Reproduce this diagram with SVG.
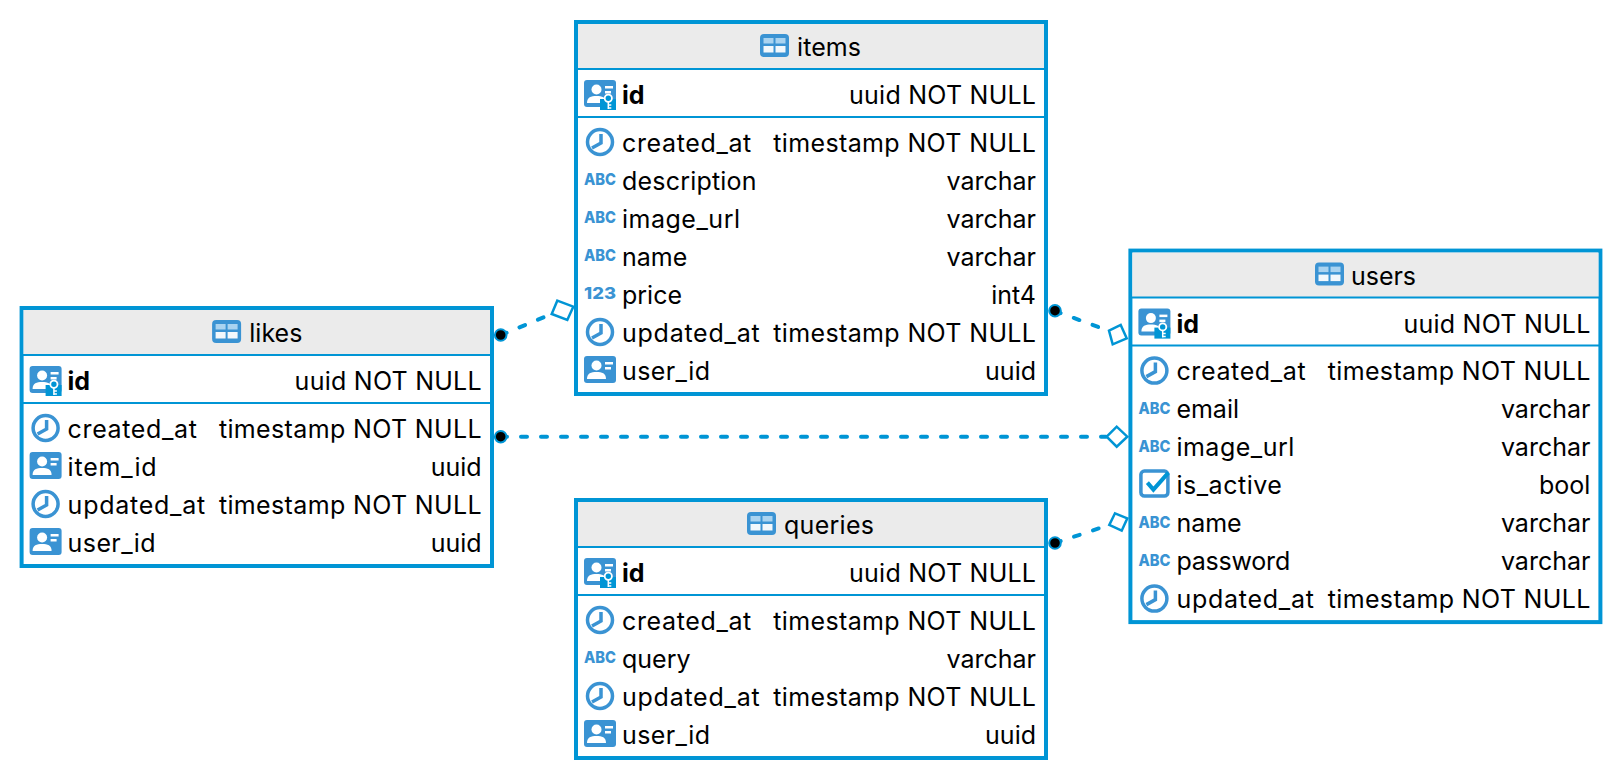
<svg xmlns="http://www.w3.org/2000/svg" width="1622" height="780" viewBox="0 0 1622 780">
<style>
text{font-family:Inter,"Liberation Sans",sans-serif;fill:#000}
.f{font-size:25px}
.b{font-weight:700}
.r{text-anchor:end}
.t{font-size:25px}
.a{font-size:16.5px;font-weight:800;fill:#3a93d3}
.box{fill:#fff;stroke:#0095d5;stroke-width:4}
.head{fill:#ebebeb}
.sep{stroke:#0095d5;stroke-width:2}
.ic{fill:#3a93d3}
.cl{fill:none;stroke:#3a93d3;stroke-width:3.5}
.cn{fill:none;stroke:#0095d5;stroke-width:4;stroke-dasharray:6 14;stroke-linecap:round}
.dm{fill:#fff;stroke:#0095d5;stroke-width:2.5}
.dot{fill:#000;stroke:#0095d5;stroke-width:2}
</style>
<defs>
<g id="tbl"><rect width="29" height="23" rx="4" class="ic"/><rect x="3.500" y="4" width="10" height="5.500" fill="#a9d3f0"/><rect x="15.500" y="4" width="10" height="5.500" fill="#a9d3f0"/><rect x="3.500" y="12" width="10" height="6.500" fill="#f2f8fc"/><rect x="15.500" y="12" width="10" height="6.500" fill="#f2f8fc"/></g>
<g id="usr"><rect width="32" height="27" rx="3" class="ic"/><circle cx="12.500" cy="9.500" r="5" fill="#fff"/><path d="M3 23c0-6 4-7 9.500-7s9.500 1 9.500 7z" fill="#fff"/><rect x="21" y="6" width="8" height="2.500" fill="#fff"/><rect x="21" y="11" width="6" height="2.500" fill="#fff"/></g>
<g id="key"><use href="#usr"/><rect x="16" y="19" width="16" height="11" fill="#0095d5"/><circle cx="24.300" cy="18.300" r="3.600" fill="#0095d5" stroke="#fff" stroke-width="1.800"/><path d="M24.300 22v7M24.300 25h3M24.300 28h3" stroke="#fff" stroke-width="1.500" fill="none"/></g>
<g id="clk"><circle r="12.500" class="cl"/><path d="M1 -8V1L-8 6" class="cl"/></g>
<g id="chk"><rect x="1.500" y="1.500" width="27" height="25" rx="3.500" class="cl"/><path d="M8 13l6 7L29 3" fill="none" stroke="#0095d5" stroke-width="4"/></g>
</defs>
<g id="connectors">
<path class="cn" d="M501 335L551.700 314"/>
<path class="cn" d="M1055 311L1109 331"/>
<path class="cn" d="M501 436.700H1106"/>
<path class="cn" d="M1055 543L1109 525"/>
<path class="dm" d="M557.300 300.700L573.300 306.700L567.300 320L551.700 314Z"/>
<path class="dm" d="M1109 330.700L1120.700 325L1126.700 338.300L1112.700 344.300Z"/>
<path class="dm" d="M1106.700 436.700L1116.700 426.700L1127.300 436.700L1116.700 446.700Z"/>
<path class="dm" d="M1115 513.300L1127.300 518.300L1121.700 530.700L1109.300 525Z"/>
</g>
<g id="items" transform="translate(576 22)">
<rect class="box" width="470" height="372"/><rect class="head" x="2" y="2" width="466" height="45"/>
<path class="sep" d="M0 47H470M0 95H470"/>
<use href="#tbl" x="184" y="12"/><text class="t" x="221" y="34" textLength="64">items</text>
<use href="#key" x="8" y="58"/><text class="f b" x="46" y="82">id</text><text class="f r" x="460" y="82" textLength="187">uuid NOT NULL</text>
<use href="#clk" x="24" y="120"/><text class="f" x="46" y="129.700" textLength="129.300">created_at</text><text class="f r" x="460" y="129.700" textLength="262.700">timestamp NOT NULL</text>
<text class="a" x="8" y="163" textLength="32" lengthAdjust="spacingAndGlyphs">ABC</text><text class="f" x="46" y="167.700" textLength="134.500">description</text><text class="f r" x="460" y="167.700">varchar</text>
<text class="a" x="8" y="201" textLength="32" lengthAdjust="spacingAndGlyphs">ABC</text><text class="f" x="46" y="205.700" textLength="118">image_url</text><text class="f r" x="460" y="205.700">varchar</text>
<text class="a" x="8" y="239" textLength="32" lengthAdjust="spacingAndGlyphs">ABC</text><text class="f" x="46" y="243.700">name</text><text class="f r" x="460" y="243.700">varchar</text>
<text class="a" x="8" y="277" textLength="32" lengthAdjust="spacingAndGlyphs">123</text><text class="f" x="46" y="281.700">price</text><text class="f r" x="460" y="281.700">int4</text>
<use href="#clk" x="24" y="310"/><text class="f" x="46" y="319.700" textLength="137.600">updated_at</text><text class="f r" x="460" y="319.700" textLength="262.700">timestamp NOT NULL</text>
<use href="#usr" x="8" y="334"/><text class="f" x="46" y="357.700" textLength="88">user_id</text><text class="f r" x="460" y="357.700">uuid</text>
</g>
<g id="users" transform="translate(1130.400 250.600)">
<rect class="box" width="470" height="371.500"/><rect class="head" x="2" y="2" width="466" height="45"/>
<path class="sep" d="M0 47H470M0 95H470"/>
<use href="#tbl" x="184.600" y="12"/><text class="t" x="220.500" y="34">users</text>
<use href="#key" x="8" y="58"/><text class="f b" x="46" y="82">id</text><text class="f r" x="460" y="82" textLength="187">uuid NOT NULL</text>
<use href="#clk" x="24" y="120"/><text class="f" x="46" y="129.700" textLength="129.300">created_at</text><text class="f r" x="460" y="129.700" textLength="262.700">timestamp NOT NULL</text>
<text class="a" x="8" y="163" textLength="32" lengthAdjust="spacingAndGlyphs">ABC</text><text class="f" x="46" y="167.700">email</text><text class="f r" x="460" y="167.700">varchar</text>
<text class="a" x="8" y="201" textLength="32" lengthAdjust="spacingAndGlyphs">ABC</text><text class="f" x="46" y="205.700" textLength="118">image_url</text><text class="f r" x="460" y="205.700">varchar</text>
<use href="#chk" x="9" y="219"/><text class="f" x="46" y="243.700" textLength="105.500">is_active</text><text class="f r" x="460" y="243.700">bool</text>
<text class="a" x="8" y="277" textLength="32" lengthAdjust="spacingAndGlyphs">ABC</text><text class="f" x="46" y="281.700">name</text><text class="f r" x="460" y="281.700">varchar</text>
<text class="a" x="8" y="315" textLength="32" lengthAdjust="spacingAndGlyphs">ABC</text><text class="f" x="46" y="319.700" textLength="113.800">password</text><text class="f r" x="460" y="319.700">varchar</text>
<use href="#clk" x="24" y="348"/><text class="f" x="46" y="357.700" textLength="137.600">updated_at</text><text class="f r" x="460" y="357.700" textLength="262.700">timestamp NOT NULL</text>
</g>
<g id="likes" transform="translate(21.600 308)">
<rect class="box" width="470.400" height="258"/><rect class="head" x="2" y="2" width="466.400" height="45"/>
<path class="sep" d="M0 47H470.400M0 95H470.400"/>
<use href="#tbl" x="190.500" y="12"/><text class="t" x="227.700" y="34">likes</text>
<use href="#key" x="8" y="58"/><text class="f b" x="46" y="82">id</text><text class="f r" x="460" y="82" textLength="187">uuid NOT NULL</text>
<use href="#clk" x="24" y="120"/><text class="f" x="46" y="129.700" textLength="129.300">created_at</text><text class="f r" x="460" y="129.700" textLength="262.700">timestamp NOT NULL</text>
<use href="#usr" x="8" y="144"/><text class="f" x="46" y="167.700" textLength="89">item_id</text><text class="f r" x="460" y="167.700">uuid</text>
<use href="#clk" x="24" y="196"/><text class="f" x="46" y="205.700" textLength="137.600">updated_at</text><text class="f r" x="460" y="205.700" textLength="262.700">timestamp NOT NULL</text>
<use href="#usr" x="8" y="220"/><text class="f" x="46" y="243.700" textLength="88">user_id</text><text class="f r" x="460" y="243.700">uuid</text>
</g>
<g id="queries" transform="translate(576 500)">
<rect class="box" width="470" height="258"/><rect class="head" x="2" y="2" width="466" height="45"/>
<path class="sep" d="M0 47H470M0 95H470"/>
<use href="#tbl" x="171" y="12"/><text class="t" x="208" y="34" textLength="90">queries</text>
<use href="#key" x="8" y="58"/><text class="f b" x="46" y="82">id</text><text class="f r" x="460" y="82" textLength="187">uuid NOT NULL</text>
<use href="#clk" x="24" y="120"/><text class="f" x="46" y="129.700" textLength="129.300">created_at</text><text class="f r" x="460" y="129.700" textLength="262.700">timestamp NOT NULL</text>
<text class="a" x="8" y="163" textLength="32" lengthAdjust="spacingAndGlyphs">ABC</text><text class="f" x="46" y="167.700">query</text><text class="f r" x="460" y="167.700">varchar</text>
<use href="#clk" x="24" y="196"/><text class="f" x="46" y="205.700" textLength="137.600">updated_at</text><text class="f r" x="460" y="205.700" textLength="262.700">timestamp NOT NULL</text>
<use href="#usr" x="8" y="220"/><text class="f" x="46" y="243.700" textLength="88">user_id</text><text class="f r" x="460" y="243.700">uuid</text>
</g>
<g id="connector-ends">
<circle class="dot" cx="500.700" cy="335" r="5.800"/>
<circle class="dot" cx="1055" cy="310.700" r="5.800"/>
<circle class="dot" cx="500.700" cy="436.700" r="5.800"/>
<circle class="dot" cx="1055" cy="543" r="5.800"/>
</g>
</svg>
